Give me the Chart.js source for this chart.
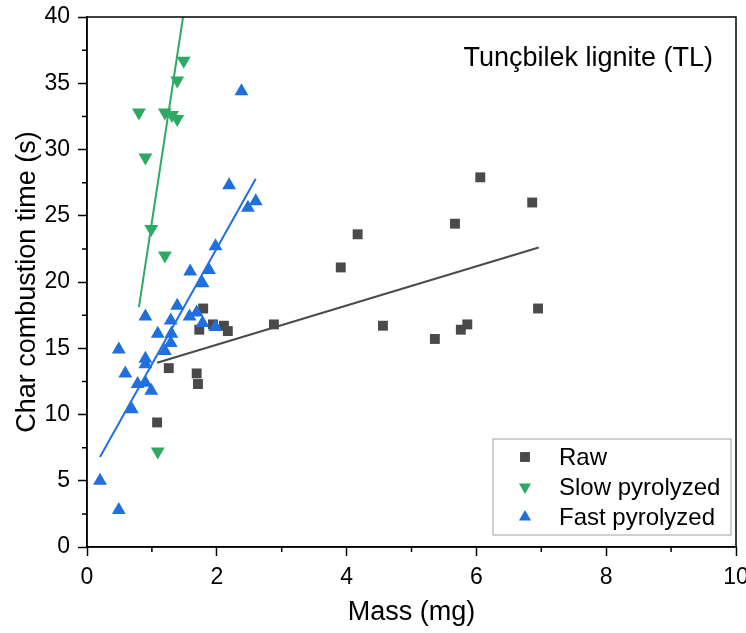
<!DOCTYPE html>
<html lang="en">
<head>
    <meta charset="UTF-8">
    <title>Char combustion time vs mass</title>
    <script src="https://cdn.jsdelivr.net/npm/chart.js"></script>
    <style>
        body { margin: 0; padding: 0; background: #fff; }
        #wrap { width: 746px; height: 633px; }
    </style>
</head>
<body>
    <div id="wrap"><canvas id="chart"></canvas></div>

    <script>
        // Raw lignite
        const rawMass = [1.08, 1.26, 1.69, 1.71, 1.73, 1.79, 1.94, 2.11, 2.17, 2.88, 3.91, 4.17, 4.56, 5.36, 5.67, 5.76, 5.86, 6.06, 6.86, 6.95];
        const rawTime = [9.4, 13.5, 13.1, 12.3, 16.4, 18.0, 16.8, 16.7, 16.3, 16.8, 21.1, 23.6, 16.7, 15.7, 24.4, 16.4, 16.8, 27.9, 26.0, 18.0];

        // Slow pyrolyzed char
        const slowMass = [0.80, 0.90, 0.99, 1.09, 1.20, 1.20, 1.31, 1.39, 1.39, 1.49];
        const slowTime = [32.8, 29.4, 24.0, 7.2, 22.0, 32.8, 32.6, 32.3, 35.2, 36.7];

        // Fast pyrolyzed char
        const fastMass = [0.20, 0.49, 0.49, 0.59, 0.69, 0.78, 0.90, 0.90, 0.90, 0.90, 0.99, 1.09, 1.20, 1.29, 1.29, 1.30, 1.39, 1.58, 1.59, 1.69, 1.78, 1.78, 1.88, 1.98, 1.98, 2.19, 2.38, 2.48, 2.60];
        const fastTime = [5.0, 2.8, 14.9, 13.1, 10.4, 12.3, 17.4, 14.2, 13.8, 12.4, 11.8, 16.1, 14.8, 17.1, 15.4, 16.1, 18.2, 17.4, 20.8, 17.7, 19.9, 16.9, 20.9, 22.7, 16.6, 27.3, 34.4, 25.6, 26.1];

        // linear fits (end points)
        const rawFitMass = [1.08, 6.96];
        const rawFitTime = [13.9, 22.6];
        const slowFitMass = [0.80, 1.48];
        const slowFitTime = [18.1, 40];
        const fastFitMass = [0.20, 2.60];
        const fastFitTime = [6.8, 27.8];

        const seriesNames = ['Raw', 'Slow pyrolyzed', 'Fast pyrolyzed'];
        const panelTitle = 'Tunçbilek lignite (TL)';
        const minorX = [1, 3, 5, 7, 9];
        const minorY = [2.5, 7.5, 12.5, 17.5, 22.5, 27.5, 32.5, 37.5];

        const FONT = 'Arial, "Liberation Sans", sans-serif';
        const GRAY = '#4a4a4a', GREEN = '#2da964', BLUE = '#1f6fdf';

        const pts = (xs, ys) => xs.map((x, i) => ({ x: x, y: ys[i] }));

        const markerStyles = [
            { pointStyle: 'rect', rotation: 0, color: GRAY },
            { pointStyle: 'triangle', rotation: 180, color: GREEN },
            { pointStyle: 'triangle', rotation: 0, color: BLUE }
        ];

        // frame, minor ticks, panel title and legend
        const decorations = {
            id: 'decorations',
            afterDraw(chart) {
                const { ctx, chartArea: a, scales: { x, y } } = chart;
                ctx.save();
                ctx.strokeStyle = '#000';
                ctx.lineWidth = 1.5;
                ctx.strokeRect(a.left, a.top, a.right - a.left, a.bottom - a.top);
                ctx.beginPath();
                minorX.forEach(v => {
                    const px = x.getPixelForValue(v);
                    ctx.moveTo(px, a.bottom);
                    ctx.lineTo(px, a.bottom + 5);
                });
                minorY.forEach(v => {
                    const py = y.getPixelForValue(v);
                    ctx.moveTo(a.left, py);
                    ctx.lineTo(a.left - 5, py);
                });
                ctx.stroke();

                // title inside the plot
                ctx.fillStyle = '#000';
                ctx.font = '27px ' + FONT;
                ctx.textAlign = 'right';
                ctx.textBaseline = 'middle';
                ctx.fillText(panelTitle, a.right - 23, a.top + 42);

                // legend box
                const bx = a.left + 406, by = a.top + 422, bw = 238, bh = 96;
                ctx.lineWidth = 1;
                ctx.strokeStyle = '#a0a0a0';
                ctx.strokeRect(bx, by, bw, bh);
                ctx.font = '24px ' + FONT;
                ctx.textAlign = 'left';
                seriesNames.forEach((name, i) => {
                    const ly = by + 18 + i * 30;
                    const m = markerStyles[i];
                    ctx.fillStyle = m.color;
                    ctx.strokeStyle = m.color;
                    Chart.helpers.drawPoint(ctx, {
                        pointStyle: m.pointStyle,
                        rotation: m.rotation,
                        radius: 7,
                        borderWidth: 0
                    }, bx + 32, ly);
                    ctx.fillStyle = '#000';
                    ctx.fillText(name, bx + 66, ly + 1);
                });
                ctx.restore();
            }
        };

        const scatterSet = (label, xs, ys, i, order) => ({
            label: label,
            data: pts(xs, ys),
            pointStyle: markerStyles[i].pointStyle,
            rotation: markerStyles[i].rotation,
            pointRadius: markerStyles[i].pointStyle === 'rect' ? 7 : 8,
            pointHoverRadius: 8,
            backgroundColor: markerStyles[i].color,
            borderColor: markerStyles[i].color,
            borderWidth: 0,
            showLine: false,
            order: order
        });

        const fitSet = (xs, ys, color) => ({
            label: 'fit',
            data: pts(xs, ys),
            showLine: true,
            borderColor: color,
            borderWidth: 2,
            pointRadius: 0,
            fill: false,
            order: 0
        });

        new Chart(document.getElementById('chart').getContext('2d'), {
            type: 'scatter',
            data: {
                datasets: [
                    scatterSet(seriesNames[0], rawMass, rawTime, 0, 3),
                    scatterSet(seriesNames[1], slowMass, slowTime, 1, 2),
                    scatterSet(seriesNames[2], fastMass, fastTime, 2, 1),
                    fitSet(rawFitMass, rawFitTime, GRAY),
                    fitSet(slowFitMass, slowFitTime, GREEN),
                    fitSet(fastFitMass, fastFitTime, BLUE)
                ]
            },
            options: {
                responsive: true,
                maintainAspectRatio: false,
                animation: false,
                layout: { padding: { top: 17, right: 10, left: 0, bottom: 0 } },
                plugins: {
                    legend: { display: false },
                    tooltip: { enabled: false }
                },
                scales: {
                    x: {
                        type: 'linear',
                        min: 0,
                        max: 10,
                        ticks: { stepSize: 2, color: '#000', font: { family: FONT, size: 23 }, padding: 8 },
                        grid: { drawOnChartArea: false, tickLength: 9, tickColor: '#000', tickWidth: 1.5 },
                        border: { color: '#000', width: 1.5 },
                        title: { display: true, text: 'Mass (mg)', color: '#000', font: { family: FONT, size: 27 }, padding: { top: 2 } },
                        afterFit: s => { s.height = 86; s.paddingLeft = 0; s.paddingRight = 0; }
                    },
                    y: {
                        min: 0,
                        max: 40,
                        ticks: { stepSize: 5, color: '#000', font: { family: FONT, size: 23 }, padding: 8 },
                        grid: { drawOnChartArea: false, tickLength: 9, tickColor: '#000', tickWidth: 1.5 },
                        border: { color: '#000', width: 1.5 },
                        title: { display: true, text: 'Char combustion time (s)', color: '#000', font: { family: FONT, size: 27 }, padding: { top: 11, bottom: 0 } },
                        afterFit: s => { s.width = 87; s.paddingTop = 0; s.paddingBottom = 0; }
                    }
                }
            },
            plugins: [decorations]
        });
    </script>
</body>
</html>
